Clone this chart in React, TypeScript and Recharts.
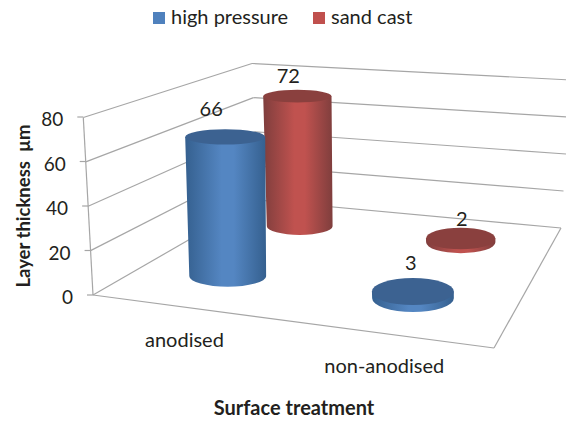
import { Bar, BarChart, XAxis, YAxis } from "recharts"

const categories = ["anodised", "non-anodised"]
const highPressure = [66, 3]
const sandCast = [72, 2]
const yTicks = [0, 20, 40, 60, 80]

const data = categories.map((name, i) => ({ name, highPressure: highPressure[i], sandCast: sandCast[i] }))

const WIDTH = 566
const HEIGHT = 421
const FONT = "Lato, 'Open Sans', sans-serif"
const TEXT = "#231f20"
const GRID = "#a6a6a6"

const margin = { top: 117, right: 20, bottom: 96, left: 0 }
const Y_AXIS_WIDTH = 80
const plotLeft = margin.left + Y_AXIS_WIDTH
const plotWidth = WIDTH - plotLeft - margin.right

// corners of the 3d box as seen on screen
const floor = { fl: [93, 295], fr: [494, 348], br: [561, 228], bl: [258, 200] }
const top = { fl: [83.3, 117.5], bl: [252, 63.5], br: [571, 80] }

// floor plane (u along categories, v along series) to screen
const dx1 = floor.fr[0] - floor.br[0]
const dx2 = floor.bl[0] - floor.br[0]
const sx = floor.fl[0] - floor.fr[0] + floor.br[0] - floor.bl[0]
const dy1 = floor.fr[1] - floor.br[1]
const dy2 = floor.bl[1] - floor.br[1]
const sy = floor.fl[1] - floor.fr[1] + floor.br[1] - floor.bl[1]
const det = dx1 * dy2 - dx2 * dy1
const g = (sx * dy2 - dx2 * sy) / det
const h = (dx1 * sy - sx * dy1) / det

function project(u: number, v: number) {
  const w = 1 + g * u + h * v
  const x = ((floor.fr[0] - floor.fl[0] + g * floor.fr[0]) * u + (floor.bl[0] - floor.fl[0] + h * floor.bl[0]) * v + floor.fl[0]) / w
  const y = ((floor.fr[1] - floor.fl[1] + g * floor.fr[1]) * u + (floor.bl[1] - floor.fl[1] + h * floor.bl[1]) * v + floor.fl[1]) / w
  return { x, y, w }
}

function wallPoint(a: number[], b: number[], value: number) {
  const t = value / yTicks[yTicks.length - 1]
  return { x: a[0] + (b[0] - a[0]) * t, y: a[1] + (b[1] - a[1]) * t }
}

const ellipseRatio = (x: number, y: number) => 0.11 + 0.0006 * y + 0.00025 * (x - 227)

function Cylinder(props: any, gradient: string, cap: string, depth: number, barOnLeft: boolean, nudge: number[][]) {
  const { x, width, height, value, index } = props
  const center = barOnLeft ? x + width : x
  const u = (center - plotLeft) / plotWidth
  const p = project(u, depth)
  const tall = height / p.w
  const rx = 40.5 / p.w
  const topX = p.x - 0.018 * tall
  const topY = p.y - tall
  const rxTop = rx * (1 + 0.0003 * tall)
  const ry = rx * ellipseRatio(p.x, p.y)
  const ryTop = rxTop * ellipseRatio(topX, topY)
  const side = `M${topX - rxTop},${topY} L${p.x - rx},${p.y} A${rx},${ry} 0 0 0 ${p.x + rx},${p.y} L${topX + rxTop},${topY} Z`
  return (
    <g>
      <path d={side} fill={`url(#${gradient})`} />
      <ellipse cx={topX} cy={topY} rx={rxTop} ry={ryTop} fill={cap} />
      <text x={topX + nudge[index][0]} y={topY + nudge[index][1]} textAnchor="middle" fontFamily={FONT} fontSize={20} fill={TEXT}>
        {value}
      </text>
    </g>
  )
}

function YTick({ y, payload }: any) {
  const a = wallPoint(floor.fl, top.fl, payload.value)
  return (
    <g>
      <line x1={a.x - 6} y1={y} x2={a.x} y2={y} stroke={GRID} strokeWidth={1.2} />
      <text x={a.x - 20} y={y + 9} textAnchor="end" fontFamily={FONT} fontSize={19} fill={TEXT}>
        {payload.value}
      </text>
    </g>
  )
}

function XTick({ x, payload }: any) {
  const p = project((x - plotLeft) / plotWidth, 0)
  return (
    <text x={p.x + 1} y={p.y + 40} textAnchor="middle" fontFamily={FONT} fontSize={20} fill={TEXT}>
      {payload.value}
    </text>
  )
}

function gradientStops(edge: string, mid: string) {
  return (
    <>
      <stop offset="0%" stopColor={edge} />
      <stop offset="45%" stopColor={mid} />
      <stop offset="60%" stopColor={mid} />
      <stop offset="100%" stopColor={edge} />
    </>
  )
}

const line = (a: { x: number; y: number }, b: { x: number; y: number }, key: string) => (
  <line key={key} x1={a.x} y1={a.y} x2={b.x} y2={b.y} stroke={GRID} strokeWidth={1.2} />
)
const pt = (c: number[]) => ({ x: c[0], y: c[1] })

export default function App() {
  return (
    <div style={{ position: "absolute", left: 0, top: 0, width: WIDTH, height: HEIGHT, background: "#fff", overflow: "hidden" }}>
      <BarChart width={WIDTH} height={HEIGHT} data={data} margin={margin} barGap={0}>
        <defs>
          <linearGradient id="blueSide" x1="0" y1="0" x2="1" y2="0">
            {gradientStops("#35608f", "#5486c2")}
          </linearGradient>
          <linearGradient id="redSide" x1="0" y1="0" x2="1" y2="0">
            {gradientStops("#7f3e3d", "#c0524f")}
          </linearGradient>
        </defs>

        <g>
          {yTicks.map((t) => {
            const a = wallPoint(floor.fl, top.fl, t)
            const b = wallPoint(floor.bl, top.bl, t)
            const c = wallPoint(floor.br, top.br, t)
            return [line(a, b, `l${t}`), line(b, c, `r${t}`)]
          })}
          {line(pt(floor.fl), pt(top.fl), "axis")}
          {line(pt(floor.fl), pt(floor.fr), "front")}
          {line(pt(floor.fr), pt(floor.br), "side")}
        </g>

        <XAxis dataKey="name" axisLine={false} tickLine={false} height={30} tick={<XTick />} interval={0} />
        <YAxis width={Y_AXIS_WIDTH} domain={[0, 80]} ticks={yTicks} axisLine={false} tickLine={false} tick={<YTick />} />

        <Bar
          dataKey="sandCast"
          isAnimationActive={false}
          shape={(p: any) => Cylinder(p, "redSide", "#8a403e", 0.75, true, [[-9, -13], [1, -13]])}
        />
        <Bar
          dataKey="highPressure"
          isAnimationActive={false}
          shape={(p: any) => Cylinder(p, "blueSide", "#3c6291", 0.245, false, [[-14, -21], [-2, -22]])}
        />

        <g fontFamily={FONT} fontSize={20} fill={TEXT}>
          <rect x={153} y={12} width={12} height={12} fill="#4f81bd" />
          <text x={171} y={24}>high pressure</text>
          <rect x={313} y={12} width={12} height={12} fill="#c0504d" />
          <text x={331} y={24}>sand cast</text>
        </g>
        <text x={294} y={415} textAnchor="middle" fontFamily={FONT} fontSize={20} fontWeight={700} fill={TEXT}>
          Surface treatment
        </text>
        <text
          transform="translate(30,206) rotate(-90)"
          textAnchor="middle"
          fontFamily={FONT}
          fontSize={18.5}
          fontWeight={700}
          fill={TEXT}
          xmlSpace="preserve"
        >
          Layer thickness  µm
        </text>
      </BarChart>
    </div>
  )
}
